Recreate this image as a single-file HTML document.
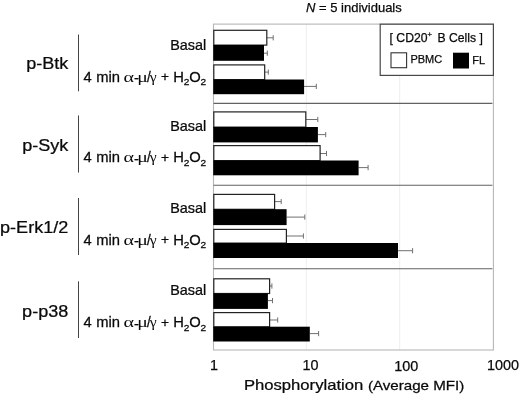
<!DOCTYPE html>
<html lang="en"><head><meta charset="utf-8"><title>Phosphorylation in CD20+ B cells</title>
<style>
html,body{margin:0;padding:0;background:#fff;}
body{width:520px;height:396px;overflow:hidden;}
svg{display:block;}
text{font-family:"Liberation Sans",Arial,Helvetica,sans-serif;fill:#0a0a0a;stroke:#0a0a0a;stroke-width:0.25px;}
.gk{font-family:"Liberation Serif","DejaVu Serif",serif;stroke:none;}
</style></head><body>
<svg width="520" height="396" viewBox="0 0 520 396">
<rect x="0" y="0" width="520" height="396" fill="#fff"/>
<line x1="306.3" y1="24.1" x2="306.3" y2="350.0" stroke="#eeeeee" stroke-width="1"/>
<line x1="399.7" y1="24.1" x2="399.7" y2="350.0" stroke="#eeeeee" stroke-width="1"/>
<rect x="213.5" y="24.1" width="279.9" height="325.9" fill="none" stroke="#b6b6b6" stroke-width="1.1"/>
<line x1="213.5" y1="103.4" x2="492.4" y2="103.4" stroke="#626262" stroke-width="1.1"/>
<line x1="213.5" y1="185.2" x2="492.4" y2="185.2" stroke="#626262" stroke-width="1.1"/>
<line x1="213.5" y1="268.8" x2="492.4" y2="268.8" stroke="#626262" stroke-width="1.1"/>
<path d="M266.8 37.8H273.2M273.2 35.2V40.4" stroke="#707070" stroke-width="1" fill="none"/>
<path d="M264.0 53.2H267.3M267.3 50.6V55.8" stroke="#707070" stroke-width="1" fill="none"/>
<rect x="213.8" y="30.3" width="53.0" height="14.8" fill="#fff" stroke="#222" stroke-width="1.2"/>
<rect x="213.2" y="45.0" width="50.8" height="15.8" fill="#000"/>
<path d="M264.7 72.1H268.3M268.3 69.5V74.7" stroke="#707070" stroke-width="1" fill="none"/>
<path d="M304.1 86.4H316.3M316.3 83.8V89.0" stroke="#707070" stroke-width="1" fill="none"/>
<rect x="213.8" y="64.9" width="50.9" height="14.7" fill="#fff" stroke="#222" stroke-width="1.2"/>
<rect x="213.2" y="79.5" width="90.9" height="14.7" fill="#000"/>
<path d="M305.8 119.5H317.8M317.8 116.9V122.1" stroke="#707070" stroke-width="1" fill="none"/>
<path d="M317.9 134.6H325.7M325.7 132.0V137.2" stroke="#707070" stroke-width="1" fill="none"/>
<rect x="213.8" y="111.9" width="92.0" height="15.2" fill="#fff" stroke="#222" stroke-width="1.2"/>
<rect x="213.2" y="127.0" width="104.7" height="15.4" fill="#000"/>
<path d="M320.1 153.5H326.5M326.5 150.9V156.1" stroke="#707070" stroke-width="1" fill="none"/>
<path d="M358.6 167.6H368.1M368.1 165.0V170.2" stroke="#707070" stroke-width="1" fill="none"/>
<rect x="213.8" y="145.6" width="106.3" height="15.0" fill="#fff" stroke="#222" stroke-width="1.2"/>
<rect x="213.2" y="160.5" width="145.4" height="14.8" fill="#000"/>
<path d="M274.6 201.6H281.2M281.2 199.0V204.2" stroke="#707070" stroke-width="1" fill="none"/>
<path d="M286.6 217.1H304.8M304.8 214.5V219.7" stroke="#707070" stroke-width="1" fill="none"/>
<rect x="213.8" y="194.4" width="60.8" height="14.9" fill="#fff" stroke="#222" stroke-width="1.2"/>
<rect x="213.2" y="209.2" width="73.4" height="15.9" fill="#000"/>
<path d="M286.4 236.0H303.4M303.4 233.4V238.6" stroke="#707070" stroke-width="1" fill="none"/>
<path d="M398.0 250.7H412.6M412.6 248.1V253.3" stroke="#707070" stroke-width="1" fill="none"/>
<rect x="213.8" y="229.4" width="72.6" height="13.7" fill="#fff" stroke="#222" stroke-width="1.2"/>
<rect x="213.2" y="243.0" width="184.8" height="15.0" fill="#000"/>
<path d="M269.6 286.0H271.9M271.9 283.4V288.6" stroke="#707070" stroke-width="1" fill="none"/>
<path d="M267.9 300.6H272.5M272.5 298.0V303.2" stroke="#707070" stroke-width="1" fill="none"/>
<rect x="213.8" y="278.8" width="55.8" height="14.7" fill="#fff" stroke="#222" stroke-width="1.2"/>
<rect x="213.2" y="293.4" width="54.7" height="15.5" fill="#000"/>
<path d="M269.6 320.0H277.7M277.7 317.4V322.6" stroke="#707070" stroke-width="1" fill="none"/>
<path d="M309.8 333.6H318.6M318.6 331.0V336.2" stroke="#707070" stroke-width="1" fill="none"/>
<rect x="213.8" y="312.6" width="55.8" height="14.2" fill="#fff" stroke="#222" stroke-width="1.2"/>
<rect x="213.2" y="326.7" width="96.6" height="14.8" fill="#000"/>
<rect x="380.2" y="24.2" width="113.2" height="51.2" fill="#fff" stroke="#484848" stroke-width="1.2"/>
<text y="42.2" font-size="12.2"><tspan x="389.6">[ CD20</tspan><tspan x="427.6" y="37.3" font-size="7.6">+</tspan><tspan x="437.4" y="42.2">B Cells ]</tspan></text>
<rect x="391.0" y="52.8" width="15.6" height="14.9" fill="#fff" stroke="#333" stroke-width="1.1"/>
<text x="410.4" y="62.5" font-size="11">PBMC</text>
<rect x="453" y="52.7" width="16" height="15.8" fill="#000"/>
<text x="472.2" y="63.8" font-size="11">FL</text>
<text x="306.0" y="11.5" font-size="13"><tspan font-style="italic">N</tspan> = 5 individuals</text>
<text transform="translate(68.2 69.4) scale(1.1 1)" font-size="16.4" text-anchor="end">p-Btk</text>
<line x1="78.5" y1="34.5" x2="78.5" y2="91.3" stroke="#444" stroke-width="1"/>
<text transform="translate(206.3 49.75) scale(1.045 1)" font-size="13.8" text-anchor="end">Basal</text>
<g transform="translate(0 82.0)">
<text transform="scale(1.07 1)" font-size="13.8"><tspan x="77.94" y="0">4</tspan> <tspan x="90.00" y="0">min</tspan> </text>
<text class="gk" font-size="14.5" transform="translate(123.6 0) scale(1.38 1)">α</text>
<text transform="scale(1.07 1)" font-size="13.8" x="125.33" y="1.2">-</text>
<text class="gk" font-size="14.5" transform="translate(137.2 0) scale(1.36 1)">μ</text>
<text transform="scale(0.95 1)" font-size="14.2" x="154.63" y="0">/</text>
<text class="gk" font-size="14.5" transform="translate(149.8 0) scale(1.08 1)">γ</text>
<text transform="scale(1.07 1)" font-size="13.8"> <tspan x="150.47" y="-0.7" font-size="12.8">+</tspan> <tspan x="161.87" y="0">H</tspan><tspan x="171.78" y="3.4" font-size="9.5">2</tspan><tspan x="176.82" y="0">O</tspan><tspan x="187.48" y="3.4" font-size="9.5">2</tspan></text>
</g>
<text transform="translate(68.2 151.2) scale(1.1 1)" font-size="16.4" text-anchor="end">p-Syk</text>
<line x1="78.5" y1="115.5" x2="78.5" y2="172.5" stroke="#444" stroke-width="1"/>
<text transform="translate(206.3 130.55) scale(1.045 1)" font-size="13.8" text-anchor="end">Basal</text>
<g transform="translate(0 162.3)">
<text transform="scale(1.07 1)" font-size="13.8"><tspan x="77.94" y="0">4</tspan> <tspan x="90.00" y="0">min</tspan> </text>
<text class="gk" font-size="14.5" transform="translate(123.6 0) scale(1.38 1)">α</text>
<text transform="scale(1.07 1)" font-size="13.8" x="125.33" y="1.2">-</text>
<text class="gk" font-size="14.5" transform="translate(137.2 0) scale(1.36 1)">μ</text>
<text transform="scale(0.95 1)" font-size="14.2" x="154.63" y="0">/</text>
<text class="gk" font-size="14.5" transform="translate(149.8 0) scale(1.08 1)">γ</text>
<text transform="scale(1.07 1)" font-size="13.8"> <tspan x="150.47" y="-0.7" font-size="12.8">+</tspan> <tspan x="161.87" y="0">H</tspan><tspan x="171.78" y="3.4" font-size="9.5">2</tspan><tspan x="176.82" y="0">O</tspan><tspan x="187.48" y="3.4" font-size="9.5">2</tspan></text>
</g>
<text transform="translate(68.2 233.4) scale(1.1 1)" font-size="16.4" text-anchor="end">p-Erk1/2</text>
<line x1="78.5" y1="198.0" x2="78.5" y2="255.0" stroke="#444" stroke-width="1"/>
<text transform="translate(206.3 212.65) scale(1.045 1)" font-size="13.8" text-anchor="end">Basal</text>
<g transform="translate(0 244.9)">
<text transform="scale(1.07 1)" font-size="13.8"><tspan x="77.94" y="0">4</tspan> <tspan x="90.00" y="0">min</tspan> </text>
<text class="gk" font-size="14.5" transform="translate(123.6 0) scale(1.38 1)">α</text>
<text transform="scale(1.07 1)" font-size="13.8" x="125.33" y="1.2">-</text>
<text class="gk" font-size="14.5" transform="translate(137.2 0) scale(1.36 1)">μ</text>
<text transform="scale(0.95 1)" font-size="14.2" x="154.63" y="0">/</text>
<text class="gk" font-size="14.5" transform="translate(149.8 0) scale(1.08 1)">γ</text>
<text transform="scale(1.07 1)" font-size="13.8"> <tspan x="150.47" y="-0.7" font-size="12.8">+</tspan> <tspan x="161.87" y="0">H</tspan><tspan x="171.78" y="3.4" font-size="9.5">2</tspan><tspan x="176.82" y="0">O</tspan><tspan x="187.48" y="3.4" font-size="9.5">2</tspan></text>
</g>
<text transform="translate(68.2 316.7) scale(1.1 1)" font-size="16.4" text-anchor="end">p-p38</text>
<line x1="78.5" y1="281.3" x2="78.5" y2="338.0" stroke="#444" stroke-width="1"/>
<text transform="translate(206.3 295.25) scale(1.045 1)" font-size="13.8" text-anchor="end">Basal</text>
<g transform="translate(0 327.3)">
<text transform="scale(1.07 1)" font-size="13.8"><tspan x="77.94" y="0">4</tspan> <tspan x="90.00" y="0">min</tspan> </text>
<text class="gk" font-size="14.5" transform="translate(123.6 0) scale(1.38 1)">α</text>
<text transform="scale(1.07 1)" font-size="13.8" x="125.33" y="1.2">-</text>
<text class="gk" font-size="14.5" transform="translate(137.2 0) scale(1.36 1)">μ</text>
<text transform="scale(0.95 1)" font-size="14.2" x="154.63" y="0">/</text>
<text class="gk" font-size="14.5" transform="translate(149.8 0) scale(1.08 1)">γ</text>
<text transform="scale(1.07 1)" font-size="13.8"> <tspan x="150.47" y="-0.7" font-size="12.8">+</tspan> <tspan x="161.87" y="0">H</tspan><tspan x="171.78" y="3.4" font-size="9.5">2</tspan><tspan x="176.82" y="0">O</tspan><tspan x="187.48" y="3.4" font-size="9.5">2</tspan></text>
</g>
<text x="210.0" y="369.6" font-size="14.4">1</text>
<text x="302.4" y="369.7" font-size="14.4">10</text>
<text x="394.3" y="371.1" font-size="14.4">100</text>
<text x="487.0" y="369.6" font-size="14.4">1000</text>
<text transform="translate(243.9 389.8) scale(1.1 1)" font-size="15.15">Phosphorylation</text>
<text transform="translate(367.9 389.8) scale(1.13 1)" font-size="13.4">(Average MFI)</text>
</svg>
</body></html>
